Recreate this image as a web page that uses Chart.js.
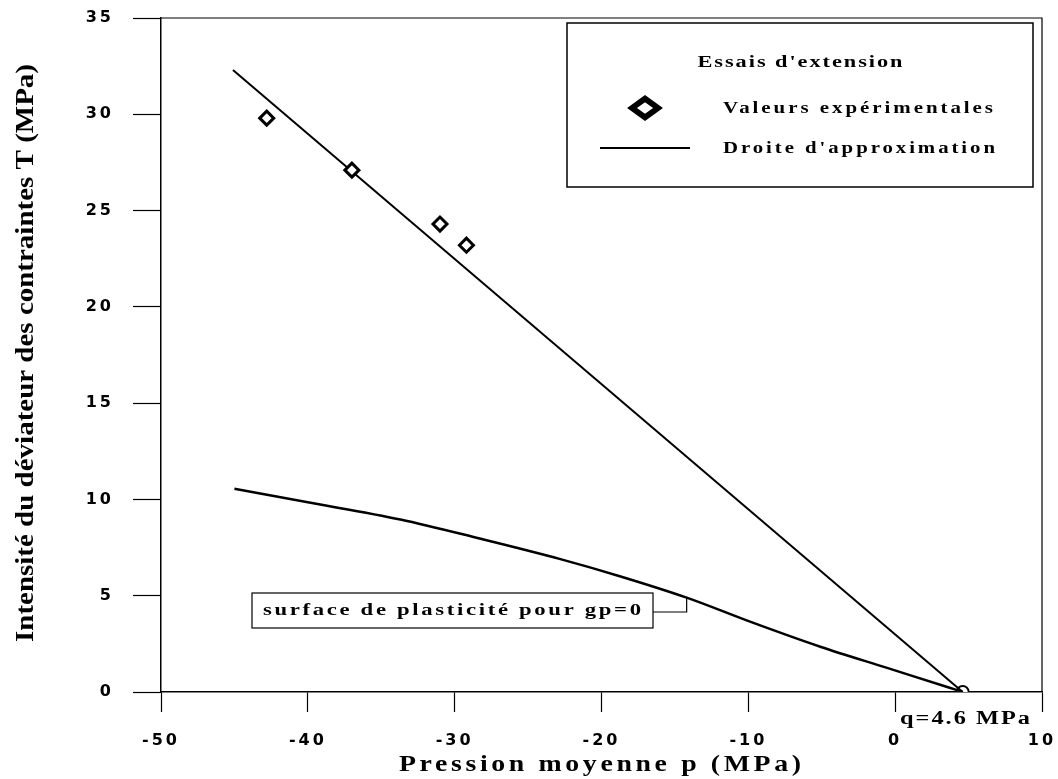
<!DOCTYPE html>
<html lang="fr">
<head>
    <meta charset="UTF-8">
    <title>Essais d'extension</title>
    <script src="https://cdn.jsdelivr.net/npm/chart.js@4.4.1/dist/chart.umd.min.js"></script>
    <style>
        html, body { margin: 0; padding: 0; background: #fff; }
        #wrap { width: 1058px; height: 779px; }
    </style>
</head>
<body>
<div id="wrap"><canvas id="chart" width="1058" height="779"></canvas></div>

<script>
    // Mesures : pression moyenne p (MPa) et intensité du déviateur T (MPa)
    const expP = [-42.8, -37.0, -31.0, -29.2];
    const expT = [29.8, 27.1, 24.3, 23.2];

    // point d'annulation de T
    const qP = 4.6;
    const qT = 0;

    // droite d'approximation
    const fitP = [-45.1, qP];
    const fitT = [32.3, qT];

    // surface de plasticité pour gp=0
    const surfP = [-45, -40, -33.7, -28.3, -22.8, -18.7, -14.2, -9.7, -5.1, -0.55, 3.6, qP];
    const surfT = [10.55, 9.85, 8.96, 7.97, 6.9, 6.0, 4.9, 3.6, 2.35, 1.25, 0.25, qT];
    const surfLabelIdx = 6;

    const xTicks = [-50, -40, -30, -20, -10, 0, 10];
    const yTicks = [0, 5, 10, 15, 20, 25, 30, 35];

    const serif = '"Liberation Serif", "Times New Roman", serif';
    const sans = '"DejaVu Sans", sans-serif';

    const pts = (xs, ys) => xs.map((x, i) => ({ x: x, y: ys[i] }));

    // texte espacé, éventuellement comprimé à une largeur donnée
    function spacedText(ctx, text, x, y, font, spacing, align, width) {
        ctx.save();
        ctx.font = font;
        ctx.letterSpacing = spacing + 'px';
        ctx.fillStyle = '#000';
        ctx.textBaseline = 'middle';
        ctx.textAlign = 'left';
        let w = ctx.measureText(text).width - spacing;
        let sx = 1;
        if (width) { sx = width / w; w = width; }
        let x0 = x;
        if (align === 'center') x0 = x - w / 2;
        if (align === 'right') x0 = x - w;
        ctx.translate(x0, y);
        ctx.scale(sx, 1);
        ctx.fillText(text, 0, 0);
        ctx.restore();
    }

    const decorations = {
        id: 'decorations',
        beforeDraw(chart) {
            // écartement des chiffres des graduations
            chart.ctx.letterSpacing = '3px';
        },
        beforeDatasetsDraw(chart) {
            chart.ctx.letterSpacing = '0px';
        },
        afterDraw(chart) {
            const ctx = chart.ctx;
            const a = chart.chartArea;
            const xs = chart.scales.x, ys = chart.scales.y;
            const H = Chart.helpers;

            ctx.save();
            ctx.strokeStyle = '#000';

            // cadre haut et droite
            ctx.lineWidth = 1.2;
            ctx.beginPath();
            ctx.moveTo(a.left, a.top);
            ctx.lineTo(a.right, a.top);
            ctx.lineTo(a.right, a.bottom);
            ctx.stroke();

            // légende
            ctx.lineWidth = 1.5;
            ctx.fillStyle = '#fff';
            ctx.fillRect(567, 23, 466, 164);
            ctx.strokeRect(567, 23, 466, 164);
            spacedText(ctx, "Essais d'extension", 800, 63, 'bold 17px ' + serif, 1.5, 'center', 205);

            ctx.save();
            ctx.translate(645, 108);
            ctx.scale(1, 0.72);
            ctx.fillStyle = '#fff';
            ctx.strokeStyle = '#000';
            ctx.lineWidth = 7;
            H.drawPoint(ctx, { pointStyle: 'rectRot', radius: 13, rotation: 0, borderWidth: 7 }, 0, 0);
            ctx.restore();
            spacedText(ctx, 'Valeurs expérimentales', 723, 109, 'bold 17px ' + serif, 2.4, 'left', 270);

            ctx.lineWidth = 2;
            ctx.beginPath();
            ctx.moveTo(600, 148);
            ctx.lineTo(690, 148);
            ctx.stroke();
            spacedText(ctx, "Droite d'approximation", 723, 149, 'bold 17px ' + serif, 2.4, 'left', 272);

            // étiquette de la surface de plasticité
            const lx = xs.getPixelForValue(surfP[surfLabelIdx]);
            const ly = ys.getPixelForValue(surfT[surfLabelIdx]);
            ctx.lineWidth = 1.2;
            ctx.fillStyle = '#fff';
            ctx.fillRect(252, 593, 401, 35);
            ctx.strokeRect(252, 593, 401, 35);
            ctx.beginPath();
            ctx.moveTo(653, 612);
            ctx.lineTo(lx, 612);
            ctx.lineTo(lx, ly);
            ctx.stroke();
            spacedText(ctx, 'surface de plasticité pour gp=0', 452, 611, 'bold 17px ' + serif, 2, 'center', 378);

            // valeur au point d'annulation
            spacedText(ctx, 'q=' + qP + ' MPa', 900, 719, 'bold 18px ' + serif, 1.5, 'left', 130);

            // titres des axes
            spacedText(ctx, 'Pression moyenne p (MPa)', 600, 765, 'bold 23px ' + serif, 3, 'center', 402);
            ctx.save();
            ctx.translate(27, (a.top + a.bottom) / 2 - 2);
            ctx.rotate(-Math.PI / 2);
            spacedText(ctx, 'Intensité du déviateur des contraintes T (MPa)', 0, 0, 'bold 25px ' + serif, 0, 'center', 578);
            ctx.restore();

            ctx.restore();
        }
    };

    new Chart(document.getElementById('chart'), {
        type: 'scatter',
        data: {
            datasets: [
                {
                    label: 'Valeurs expérimentales',
                    data: pts(expP, expT),
                    showLine: false,
                    pointStyle: 'rectRot',
                    pointRadius: 7,
                    pointBorderWidth: 3,
                    pointBackgroundColor: '#fff',
                    pointBorderColor: '#000'
                },
                {
                    label: "Droite d'approximation",
                    data: pts(fitP, fitT),
                    showLine: true,
                    borderColor: '#000',
                    borderWidth: 2,
                    pointRadius: 0
                },
                {
                    label: 'surface de plasticité pour gp=0',
                    data: pts(surfP, surfT),
                    showLine: true,
                    borderColor: '#000',
                    borderWidth: 2.5,
                    cubicInterpolationMode: 'monotone',
                    pointRadius: 0
                },
                {
                    label: 'q',
                    data: [{ x: qP, y: qT }],
                    showLine: false,
                    pointStyle: 'circle',
                    pointRadius: 6,
                    pointBorderWidth: 2,
                    pointBackgroundColor: '#fff',
                    pointBorderColor: '#000'
                }
            ]
        },
        options: {
            responsive: false,
            animation: false,
            layout: { padding: { top: 18, right: 16, left: 0, bottom: 0 } },
            plugins: {
                legend: { display: false },
                tooltip: { enabled: false }
            },
            scales: {
                x: {
                    type: 'linear',
                    min: -50,
                    max: 10,
                    afterBuildTicks: s => { s.ticks = xTicks.map(v => ({ value: v })); },
                    afterFit: s => {
                        s.height = 87;
                        s.paddingLeft = 0;
                        s.paddingRight = 0;
                    },
                    ticks: {
                        color: '#000',
                        padding: 19,
                        font: { family: sans, size: 16, weight: 'bold' }
                    },
                    grid: { drawOnChartArea: false, tickLength: 20, tickColor: '#000', tickWidth: 1.2 },
                    border: { color: '#000', width: 1.5 }
                },
                y: {
                    min: 0,
                    max: 35,
                    afterBuildTicks: s => { s.ticks = yTicks.map(v => ({ value: v })); },
                    afterFit: s => {
                        s.width = 161;
                        s.paddingTop = 0;
                        s.paddingBottom = 0;
                    },
                    ticks: {
                        color: '#000',
                        padding: 19,
                        font: { family: sans, size: 16, weight: 'bold' }
                    },
                    grid: { drawOnChartArea: false, tickLength: 28, tickColor: '#000', tickWidth: 1.2 },
                    border: { color: '#000', width: 1.5 }
                }
            }
        },
        plugins: [decorations]
    });
</script>
</body>
</html>
